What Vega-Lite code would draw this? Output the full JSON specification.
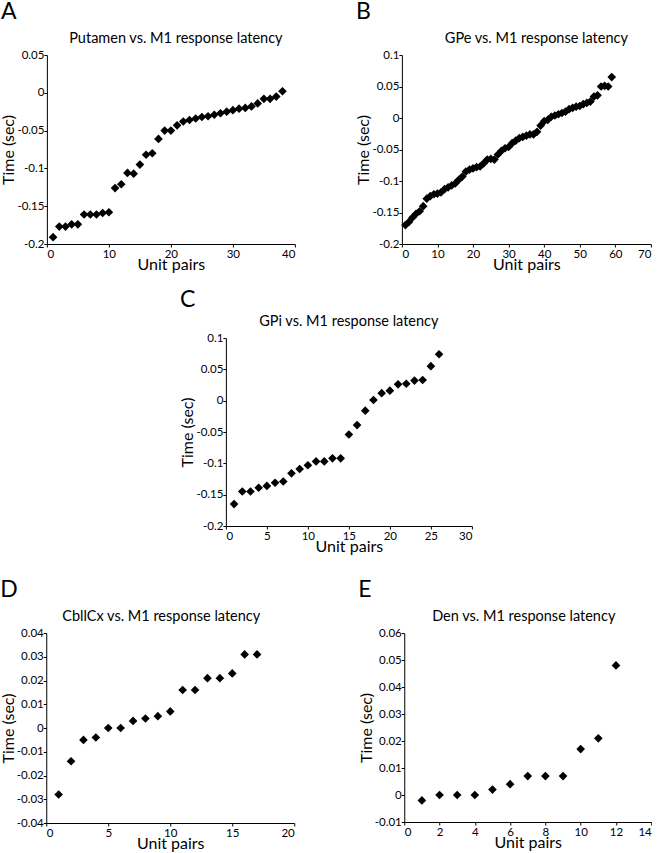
{
  "$schema": "https://vega.github.io/schema/vega-lite/v6.json",
  "padding": {"left": 0, "top": 0, "right": 0, "bottom": 0},
  "background": "white",
  "config": {
    "view": {"stroke": null},
    "font": "Lato",
    "axis": {
      "grid": false,
      "domainColor": "#000",
      "tickColor": "#000",
      "labelColor": "#000",
      "titleColor": "#000",
      "labelFont": "Lato",
      "titleFont": "Lato",
      "labelFontSize": 11.5,
      "titleFontSize": 16,
      "titleFontWeight": "normal",
      "tickSize": 3,
      "labelPadding": 0,
      "labelExpr": "replace(format(datum.value, '~g'), '\u2212', '-')"
    },
    "axisX": {"titlePadding": -3, "labelAngle": 0, "labelPadding": 1},
    "axisY": {"titlePadding": 0},
    "title": {"color": "#000", "font": "Lato", "fontWeight": "normal"},
    "point": {"shape": "diamond", "filled": true, "color": "#000", "opacity": 1, "size": 75}
  },
  "datasets": {
    "A": [
      {"x": 1, "y": -0.191}, {"x": 2, "y": -0.177}, {"x": 3, "y": -0.177}, {"x": 4, "y": -0.174}, {"x": 5, "y": -0.174},
      {"x": 6, "y": -0.161}, {"x": 7, "y": -0.161}, {"x": 8, "y": -0.161}, {"x": 9, "y": -0.159}, {"x": 10, "y": -0.158},
      {"x": 11, "y": -0.126}, {"x": 12, "y": -0.121}, {"x": 13, "y": -0.106}, {"x": 14, "y": -0.107}, {"x": 15, "y": -0.095},
      {"x": 16, "y": -0.082}, {"x": 17, "y": -0.08}, {"x": 18, "y": -0.061}, {"x": 19, "y": -0.05}, {"x": 20, "y": -0.05},
      {"x": 21, "y": -0.043}, {"x": 22, "y": -0.038}, {"x": 23, "y": -0.036}, {"x": 24, "y": -0.034}, {"x": 25, "y": -0.032},
      {"x": 26, "y": -0.031}, {"x": 27, "y": -0.029}, {"x": 28, "y": -0.027}, {"x": 29, "y": -0.025}, {"x": 30, "y": -0.023},
      {"x": 31, "y": -0.021}, {"x": 32, "y": -0.02}, {"x": 33, "y": -0.018}, {"x": 34, "y": -0.014}, {"x": 35, "y": -0.008},
      {"x": 36, "y": -0.008}, {"x": 37, "y": -0.005}, {"x": 38, "y": 0.002}
    ],
    "B": [
      {"x": 1, "y": -0.17}, {"x": 2, "y": -0.165}, {"x": 3, "y": -0.158}, {"x": 4, "y": -0.152}, {"x": 5, "y": -0.148},
      {"x": 6, "y": -0.14}, {"x": 7, "y": -0.128}, {"x": 8, "y": -0.124}, {"x": 9, "y": -0.121}, {"x": 10, "y": -0.12},
      {"x": 11, "y": -0.118}, {"x": 12, "y": -0.113}, {"x": 13, "y": -0.11}, {"x": 14, "y": -0.107}, {"x": 15, "y": -0.104},
      {"x": 16, "y": -0.098}, {"x": 17, "y": -0.093}, {"x": 18, "y": -0.085}, {"x": 19, "y": -0.082}, {"x": 20, "y": -0.08},
      {"x": 21, "y": -0.078}, {"x": 22, "y": -0.077}, {"x": 23, "y": -0.072}, {"x": 24, "y": -0.066}, {"x": 25, "y": -0.065},
      {"x": 26, "y": -0.066}, {"x": 27, "y": -0.058}, {"x": 28, "y": -0.052}, {"x": 29, "y": -0.048}, {"x": 30, "y": -0.046},
      {"x": 31, "y": -0.04}, {"x": 32, "y": -0.036}, {"x": 33, "y": -0.032}, {"x": 34, "y": -0.03}, {"x": 35, "y": -0.028},
      {"x": 36, "y": -0.026}, {"x": 37, "y": -0.026}, {"x": 38, "y": -0.022}, {"x": 39, "y": -0.012}, {"x": 40, "y": -0.005},
      {"x": 41, "y": -0.003}, {"x": 42, "y": 0.002}, {"x": 43, "y": 0.004}, {"x": 44, "y": 0.006}, {"x": 45, "y": 0.008},
      {"x": 46, "y": 0.01}, {"x": 47, "y": 0.014}, {"x": 48, "y": 0.016}, {"x": 49, "y": 0.018}, {"x": 50, "y": 0.019},
      {"x": 51, "y": 0.022}, {"x": 52, "y": 0.024}, {"x": 53, "y": 0.026}, {"x": 54, "y": 0.034}, {"x": 55, "y": 0.036},
      {"x": 56, "y": 0.05}, {"x": 57, "y": 0.051}, {"x": 58, "y": 0.05}, {"x": 59, "y": 0.065}
    ],
    "C": [
      {"x": 1, "y": -0.165}, {"x": 2, "y": -0.145}, {"x": 3, "y": -0.145}, {"x": 4, "y": -0.139}, {"x": 5, "y": -0.136},
      {"x": 6, "y": -0.131}, {"x": 7, "y": -0.129}, {"x": 8, "y": -0.116}, {"x": 9, "y": -0.109}, {"x": 10, "y": -0.103},
      {"x": 11, "y": -0.097}, {"x": 12, "y": -0.097}, {"x": 13, "y": -0.092}, {"x": 14, "y": -0.092}, {"x": 15, "y": -0.054},
      {"x": 16, "y": -0.039}, {"x": 17, "y": -0.016}, {"x": 18, "y": 0.001}, {"x": 19, "y": 0.012}, {"x": 20, "y": 0.016},
      {"x": 21, "y": 0.026}, {"x": 22, "y": 0.027}, {"x": 23, "y": 0.032}, {"x": 24, "y": 0.033}, {"x": 25, "y": 0.055},
      {"x": 26, "y": 0.074}
    ],
    "D": [
      {"x": 1, "y": -0.028}, {"x": 2, "y": -0.014}, {"x": 3, "y": -0.005}, {"x": 4, "y": -0.004}, {"x": 5, "y": 0},
      {"x": 6, "y": 0}, {"x": 7, "y": 0.003}, {"x": 8, "y": 0.004}, {"x": 9, "y": 0.005}, {"x": 10, "y": 0.007},
      {"x": 11, "y": 0.016}, {"x": 12, "y": 0.016}, {"x": 13, "y": 0.021}, {"x": 14, "y": 0.021}, {"x": 15, "y": 0.023},
      {"x": 16, "y": 0.031}, {"x": 17, "y": 0.031}
    ],
    "E": [
      {"x": 1, "y": -0.002}, {"x": 2, "y": 0}, {"x": 3, "y": 0}, {"x": 4, "y": 0}, {"x": 5, "y": 0.002},
      {"x": 6, "y": 0.004}, {"x": 7, "y": 0.007}, {"x": 8, "y": 0.007}, {"x": 9, "y": 0.007}, {"x": 10, "y": 0.017},
      {"x": 11, "y": 0.021}, {"x": 12, "y": 0.048}
    ]
  },
  "center": true,
  "spacing": 23,
  "vconcat": [
    {
      "center": true,
      "spacing": 15,
      "vconcat": [
        {
          "spacing": 60,
          "hconcat": [
            {
              "title": {"text": "A", "anchor": "start", "fontSize": 23, "frame": "bounds", "offset": 7},
              "vconcat": [
                {
                  "title": {"text": "Putamen vs. M1 response latency", "fontSize": 14.5, "offset": 3, "dx": 5},
                  "width": 248, "height": 189,
                  "data": {"name": "A"},
                  "mark": "point",
                  "encoding": {
                    "x": {"field": "x", "type": "quantitative", "title": "Unit pairs", "scale": {"domain": [0, 40], "nice": false}, "axis": {"values": [0, 10, 20, 30, 40]}},
                    "y": {"field": "y", "type": "quantitative", "title": "Time (sec)", "scale": {"domain": [-0.2, 0.05], "nice": false, "zero": false}, "axis": {"values": [-0.2, -0.15, -0.1, -0.05, 0, 0.05]}}
                  }
                }
              ]
            },
            {
              "title": {"text": "B", "anchor": "start", "fontSize": 23, "frame": "bounds", "offset": 7},
              "vconcat": [
                {
                  "title": {"text": "GPe vs. M1 response latency", "fontSize": 14.5, "offset": 3, "dx": 10},
                  "width": 249, "height": 189,
                  "data": {"name": "B"},
                  "mark": "point",
                  "encoding": {
                    "x": {"field": "x", "type": "quantitative", "title": "Unit pairs", "scale": {"domain": [0, 70], "nice": false}, "axis": {"values": [0, 10, 20, 30, 40, 50, 60, 70]}},
                    "y": {"field": "y", "type": "quantitative", "title": "Time (sec)", "scale": {"domain": [-0.2, 0.1], "nice": false, "zero": false}, "axis": {"values": [-0.2, -0.15, -0.1, -0.05, 0, 0.05, 0.1]}}
                  }
                }
              ]
            }
          ]
        },
        {
          "title": {"text": "C", "anchor": "start", "fontSize": 23, "frame": "bounds", "offset": 2},
          "vconcat": [
            {
              "title": {"text": "GPi vs. M1 response latency", "fontSize": 14.5, "offset": 3},
              "width": 246, "height": 188,
              "data": {"name": "C"},
              "mark": "point",
              "encoding": {
                "x": {"field": "x", "type": "quantitative", "title": "Unit pairs", "scale": {"domain": [0, 30], "nice": false}, "axis": {"values": [0, 5, 10, 15, 20, 25, 30]}},
                "y": {"field": "y", "type": "quantitative", "title": "Time (sec)", "scale": {"domain": [-0.2, 0.1], "nice": false, "zero": false}, "axis": {"values": [-0.2, -0.15, -0.1, -0.05, 0, 0.05, 0.1]}}
              }
            }
          ]
        }
      ]
    },
    {
      "spacing": 63,
      "hconcat": [
        {
          "title": {"text": "D", "anchor": "start", "fontSize": 23, "frame": "bounds", "offset": 7},
          "vconcat": [
            {
              "title": {"text": "CbllCx vs. M1 response latency", "fontSize": 14.5, "offset": 3, "dx": -9},
              "width": 248, "height": 190,
              "data": {"name": "D"},
              "mark": "point",
              "encoding": {
                "x": {"field": "x", "type": "quantitative", "title": "Unit pairs", "scale": {"domain": [0, 20], "nice": false}, "axis": {"values": [0, 5, 10, 15, 20]}},
                "y": {"field": "y", "type": "quantitative", "title": "Time (sec)", "scale": {"domain": [-0.04, 0.04], "nice": false, "zero": false}, "axis": {"values": [-0.04, -0.03, -0.02, -0.01, 0, 0.01, 0.02, 0.03, 0.04]}}
              }
            }
          ]
        },
        {
          "title": {"text": "E", "anchor": "start", "fontSize": 23, "frame": "bounds", "offset": 7},
          "vconcat": [
            {
              "title": {"text": "Den vs. M1 response latency", "fontSize": 14.5, "offset": 3, "dx": -4},
              "width": 247, "height": 189,
              "data": {"name": "E"},
              "mark": "point",
              "encoding": {
                "x": {"field": "x", "type": "quantitative", "title": "Unit pairs", "scale": {"domain": [0, 14], "nice": false}, "axis": {"values": [0, 2, 4, 6, 8, 10, 12, 14]}},
                "y": {"field": "y", "type": "quantitative", "title": "Time (sec)", "scale": {"domain": [-0.01, 0.06], "nice": false, "zero": false}, "axis": {"values": [-0.01, 0, 0.01, 0.02, 0.03, 0.04, 0.05, 0.06]}}
              }
            }
          ]
        }
      ]
    }
  ]
}
